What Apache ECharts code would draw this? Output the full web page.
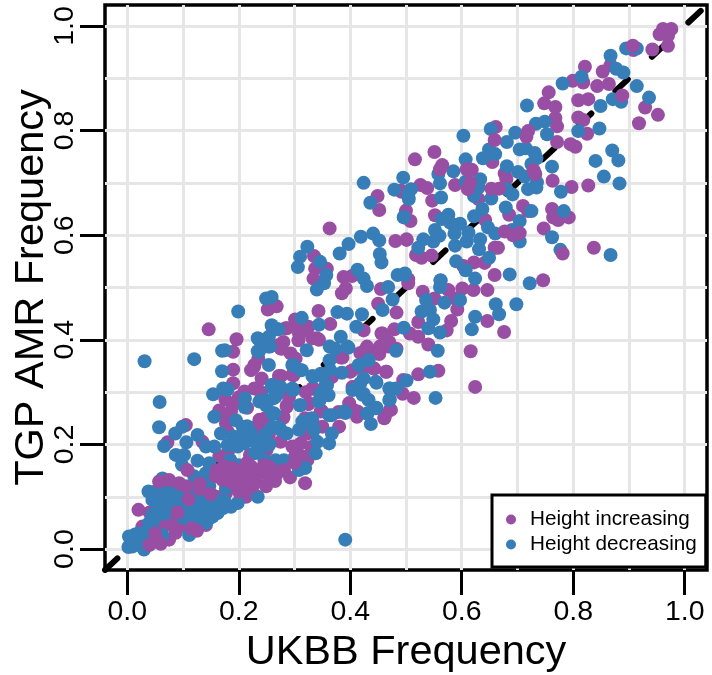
<!DOCTYPE html>
<html><head><meta charset="utf-8">
<style>html,body{margin:0;padding:0;background:#fff}#c{width:712px;height:675px}</style>
<script src="https://cdn.jsdelivr.net/npm/echarts@6/dist/echarts.min.js"></script>
</head><body><div id="c"></div>
<script>
const tickValues=[0,0.2,0.4,0.6,0.8,1.0];
const gridValues=[0,0.1,0.2,0.3,0.4,0.5,0.6,0.7,0.8,0.9,1.0];
const diagonal=[[-0.04,-0.04],[1.04,1.04]];
const increasingBelow=[
[.961,.994],[.976,.994],[.955,.984],[.970,.981],[.970,.962],[.967,.99],[.942,.955],[.908,.954],[.867,.925],[.853,.913],[.821,.922],
[.799,.895],[.818,.892],[.843,.885],[.864,.889],[.756,.873],[.748,.852],[.768,.845],[.809,.858],[.827,.860],[.929,.844],[.952,.830],[.918,.814],
[.768,.824],[.771,.808],[.809,.825],[.818,.820],[.825,.794],[.661,.807],[.771,.778],[.795,.774],[.804,.769],[.655,.740],[.551,.759],[.516,.745],
[.763,.704],[.797,.692],[.827,.695],[.677,.718],[.680,.707],[.526,.696],[.538,.690],[.492,.683],[.588,.696],[.630,.669],[.547,.666],[.500,.647],[.508,.627],
[.552,.638],[.642,.629],[.685,.639],[.710,.656],[.719,.646],[.762,.650],[.764,.634],[.773,.629],[.792,.634],[.747,.613],[.501,.591],[.659,.576],[.665,.576],
[.837,.576],[.518,.562],[.528,.557],[.546,.561],[.603,.541],[.622,.548],[.641,.547],[.659,.524],[.746,.514],[.504,.516],
[.449,.675],[.452,.648],[.363,.613],[.481,.589],[.501,.592],[.335,.560],[.337,.536],[.358,.536],[.334,.517],[.388,.520],[.403,.522],[.392,.498],[.385,.489],[.455,.497],[.491,.685],
[.504,.508],[.450,.469],[.483,.452],[.530,.492],[.576,.495],[.601,.498],[.621,.495],[.646,.495],[.551,.479],[.588,.479],[.592,.458],[.646,.436],[.676,.415],[.581,.436],[.573,.418],
[.522,.434],[.522,.406],[.507,.412],[.540,.391],[.616,.378],[.624,.310],[.558,.341],[.522,.334],[.514,.289],[.495,.323],[.494,.297],[.471,.266],[.462,.253],[.479,.420],[.456,.412],[.465,.399],[.453,.387],[.468,.387],[.483,.383],
[.430,.387],[.418,.375],[.343,.455],[.301,.439],[.364,.430],[.424,.418],[.310,.412],[.325,.425],[.340,.403],[.307,.399],[.286,.422],[.277,.383],[.301,.364],[.386,.366],[.450,.377],[.427,.380],
[.400,.339],[.418,.347],[.442,.345],[.465,.339],[.367,.329],[.358,.313],[.276,.331],[.298,.332],[.334,.307],[.233,.307],[.241,.326],[.227,.348],[.406,.310],[.286,.272],[.325,.277],[.349,.264],[.379,.262],[.406,.266],[.412,.253],[.280,.253],[.319,.250],[.247,.250],
[.146,.420],[.252,.458],[.268,.464],[.253,.459],[.105,.237],[.072,.204],[.135,.205],[.165,.178],[.180,.183],[.190,.377],[.190,.343],[.190,.317],[.196,.401],[.176,.286],[.189,.275],[.171,.256],[.177,.240],[.186,.263],
[.228,.352],[.222,.342],[.235,.364],[.210,.301],[.228,.307],[.260,.425],[.284,.422],[.275,.384],[.293,.374],[.302,.364],[.272,.331],[.296,.333],[.286,.274],[.280,.251],[.243,.240],[.231,.234],[.254,.218],[.296,.196],[.311,.202],[.323,.170],[.320,.221],
[.319,.126],[.292,.137],[.213,.100],[.207,.120],[.159,.100],[.177,.107],[.084,.107],[.129,.100],[.020,.075],[.040,.070],[.075,.059],[.093,.081],[.123,.075],[.093,.043],[.108,.043],[.087,.031],[.075,.018],[.141,.046],[.123,.043],[.027,.043],[.021,.011],[.045,.018],[.027,.005],
[.016,.013],[.036,.012],[.055,.022],[.066,.045],[.101,.060],[.115,.058],[.135,.084],[.056,.066],[.085,.060],[.035,.032],[.058,.040],
[.200,.290],[.215,.270],[.165,.265],[.180,.225],[.240,.300],[.290,.290],[.320,.300],[.345,.285],[.220,.180],[.250,.190],[.275,.205],[.300,.175],[.330,.195],[.150,.140],[.200,.130],[.210,.150],[.170,.100],[.100,.110],
[.308,.412],[.320,.422],[.332,.403],[.344,.400],[.302,.428],[.272,.390],[.458,.412],[.470,.396],[.458,.389],[.452,.373],[.428,.380],[.383,.366],[.404,.342],[.428,.349],[.443,.345],[.464,.339],[.332,.307],[.404,.310],
[.326,.279],[.347,.263],[.398,.279],[.413,.263],[.461,.250],[.473,.266],[.380,.234],[.350,.234],[.243,.231],[.237,.247],[.231,.228],[.254,.234],[.302,.196],[.314,.177],[.323,.221]
];
const decreasing=[
[.895,.957],[.914,.957],[.867,.943],[.815,.903],[.877,.918],[.890,.911],[.781,.890],[.914,.885],[.717,.848],[.871,.860],[.886,.855],[.936,.863],[.849,.847],[.733,.813],[.749,.817],[.753,.793],
[.809,.799],[.847,.804],[.652,.803],[.603,.790],[.696,.796],[.681,.778],[.649,.764],[.638,.747],[.660,.755],[.704,.764],[.715,.766],[.731,.757],[.725,.736],[.734,.747],[.762,.731],[.870,.762],[.881,.743],[.840,.742],[.855,.712],[.883,.699],
[.607,.745],[.558,.717],[.585,.722],[.681,.732],[.701,.721],[.713,.712],[.495,.710],[.509,.688],[.561,.699],[.607,.702],[.633,.707],[.630,.691],[.622,.675],[.680,.688],[.691,.678],[.653,.670],[.719,.688],[.735,.701],[.734,.691],[.778,.683],
[.505,.669],[.563,.672],[.496,.634],[.576,.639],[.564,.631],[.579,.624],[.597,.622],[.585,.620],[.637,.650],[.622,.636],[.679,.653],[.725,.646],[.704,.627],[.783,.646],[.552,.610],[.560,.599],[.549,.588],[.587,.603],[.612,.605],[.609,.588],[.633,.592],
[.647,.615],[.660,.603],[.704,.588],[.690,.610],[.762,.596],[.531,.592],[.522,.576],[.588,.580],[.631,.573],[.649,.557],[.777,.572],[.867,.562],[.590,.550],[.607,.533],[.686,.525],[.624,.517],[.562,.513],[.722,.508],[.498,.524],
[.424,.700],[.479,.687],[.504,.677],[.436,.662],[.496,.635],[.419,.597],[.441,.603],[.452,.590],[.397,.583],[.381,.565],[.323,.578],[.310,.559],[.306,.539],[.346,.549],[.357,.524],[.353,.508],[.340,.496],[.453,.564],[.456,.548],[.413,.534],[.424,.517],[.430,.503],[.485,.524],[.498,.527],[.468,.501],
[.561,.501],[.562,.514],[.476,.477],[.458,.457],[.536,.476],[.569,.471],[.597,.476],[.661,.468],[.698,.468],[.667,.449],[.624,.444],[.618,.420],[.561,.414],[.528,.454],[.543,.457],[.549,.439],[.540,.422],[.557,.379],[.543,.339],[.553,.289],[.501,.322],[.471,.307],[.482,.307],[.471,.286],[.447,.318],[.447,.270],
[.496,.423],[.482,.379],[.397,.385],[.363,.387],[.373,.383],[.363,.361],[.313,.442],[.344,.429],[.377,.453],[.394,.450],[.421,.449],[.411,.425],[.271,.420],[.259,.428],[.236,.401],[.322,.380],[.256,.387],[.236,.377],[.415,.352],[.433,.361],
[.334,.329],[.349,.332],[.364,.342],[.385,.337],[.313,.342],[.298,.352],[.424,.326],[.418,.317],[.358,.313],[.361,.294],[.346,.297],[.259,.310],[.247,.285],[.271,.301],[.298,.304],[.262,.288],[.310,.275],[.424,.297],[.433,.285],[.430,.259],[.391,.260],[.264,.259],[.367,.256],[.331,.250],
[.031,.359],[.120,.363],[.199,.454],[.249,.479],[.259,.482],[.058,.281],[.057,.233],[.099,.234],[.086,.221],[.066,.197],[.126,.218],[.106,.204],[.141,.196],[.156,.196],[.087,.180],[.102,.180],[.098,.161],[.126,.169],[.147,.164],
[.154,.296],[.172,.307],[.170,.379],[.175,.380],[.170,.340],[.180,.305],[.234,.403],[.211,.288],[.211,.271],[.156,.253],[.168,.221],[.195,.246],[.207,.221],[.198,.196],[.180,.199],[.254,.352],[.269,.420],[.254,.406],[.253,.387],[.234,.378],
[.260,.314],[.275,.310],[.266,.291],[.237,.282],[.249,.275],[.311,.342],[.296,.352],[.310,.275],[.296,.307],[.260,.260],[.286,.221],[.260,.234],[.275,.228],[.222,.221],[.231,.202],[.210,.202],[.243,.209],[.228,.183],[.207,.155],[.246,.170],[.266,.170],[.281,.170],[.308,.151],[.319,.155],
[.308,.228],[.323,.244],[.335,.228],[.341,.205],[.338,.183],[.362,.202],[.367,.221],[.234,.100],[.177,.116],[.198,.088],[.186,.081],[.171,.078],[.123,.107],[.147,.120],[.141,.145],[.120,.139],[.063,.135],[.038,.110],[.054,.094],[.072,.088],[.045,.094],[.063,.075],
[.039,.050],[.033,.024],[.003,.024],[.129,.072],[.147,.059],[.111,.027],[.096,.062],[.063,.027],[.141,.050],[.153,.062],[.002,.004],[.030,-.001],[.391,.018],[.050,.110],[.060,.082],[.075,.100],[.068,.068],[.125,.055],[.135,.062],[.115,.085],[.160,.070],[.009,.005],
[.065,.115],[.082,.122],[.070,.080],[.085,.075],[.090,.095],[.105,.070],[.155,.085],[.145,.075],[.120,.065],[.050,.060],[.028,.030],[.012,.015],[.045,.040],[.135,.095],[.150,.105],
[.225,.210],[.240,.195],[.255,.200],[.190,.215],[.215,.235],[.185,.170],[.200,.160],[.165,.140],
[.395,.387],[.383,.406],[.332,.331],[.347,.335],[.356,.314],[.344,.282],[.422,.295],[.404,.304],[.446,.320],[.470,.307],[.470,.285],[.389,.263],[.362,.256],[.431,.259],[.446,.269],[.437,.239],
[.332,.247],[.314,.244],[.207,.234],[.219,.215],[.237,.199],[.249,.221],[.272,.234],[.051,.100],[.063,.081],[.045,.066],[.057,.088],[.069,.100],[.081,.075],[.141,.088],[.135,.062],[.123,.066],[.105,.059],[.153,.075],[.162,.069],
[.078,.090],[.095,.105],[.110,.112],[.102,.090],[.125,.122],[.160,.095],[.175,.090],[.020,.030],[.014,.028]
];
const increasingAbove=[
[.907,.962],[.888,.867],[.719,.799],[.716,.788],[.659,.782],[.609,.726],[.618,.725],[.561,.726],[.565,.734],[.611,.688],[.615,.701],[.653,.689],[.667,.689],[.729,.724],[.732,.717],[.704,.604],[.692,.600],[.677,.607],[.781,.565],
[.280,.396],[.174,.158],[.195,.145],[.171,.132],[.189,.126],[.231,.129],[.249,.120],[.266,.148],[.281,.151],[.254,.139],[.237,.145],[.093,.126],[.108,.151],[.075,.132],[.057,.129],
[.160,.150],[.215,.165],[.150,.105],[.130,.125],[.110,.095],[.090,.070],[.125,.035],[.060,.010],[.040,.008],[.050,.030],
[.225,.150],[.245,.160],[.265,.130],[.200,.110],[.180,.135],[.105,.120],[.115,.040],[.080,.045],[.130,.115],[.300,.165],
[.189,.155],[.207,.151],[.222,.158],[.243,.151],[.254,.158],[.269,.145],[.219,.139],[.225,.120],[.213,.113],[.159,.139],[.165,.151]
];
const chart=echarts.init(document.getElementById('c'),null,{renderer:'canvas'});
const font='"Liberation Sans",Arial,sans-serif';
const fmt=v=>Number(v).toFixed(1);
const axisCommon={type:'value',min:-0.04,max:1.04,axisLine:{show:false,onZero:false},splitLine:{show:false},
  axisTick:{show:true,customValues:tickValues,length:25,lineStyle:{color:'#000',width:3}},
  nameLocation:'middle',nameTextStyle:{color:'#000',fontFamily:font,fontSize:41.5}};
const dot=(name,data,color)=>({name,type:'scatter',data,symbol:'circle',symbolSize:14,itemStyle:{color,opacity:1},clip:true,animation:false});
chart.setOption({
  animation:false,backgroundColor:'#fff',
  grid:{left:105,top:5,width:602,height:565,outerBoundsMode:'none',containLabel:false,show:true,borderColor:'#000',borderWidth:3.5,backgroundColor:'#fff'},
  xAxis:Object.assign({},axisCommon,{name:'UKBB Frequency',nameGap:62,
    axisLabel:{customValues:tickValues,formatter:fmt,color:'#000',fontFamily:font,fontSize:28.5,margin:28}}),
  yAxis:Object.assign({},axisCommon,{name:'TGP AMR Frequency',nameGap:52,nameMoveOverlap:false,
    axisLabel:{customValues:tickValues,formatter:fmt,color:'#000',fontFamily:font,fontSize:28.5,rotate:90,margin:25}}),
  legend:{show:true,z:50,data:['Height increasing','Height decreasing'],orient:'vertical',left:492,top:495,selectedMode:false,
    icon:'circle',itemWidth:10,itemHeight:10,itemGap:4,padding:[14,9,12,14],backgroundColor:'#fff',borderColor:'#000',borderWidth:3,borderRadius:0,
    textStyle:{color:'#000',fontFamily:font,fontSize:20.7,padding:[0,0,0,9]}},
  series:[
    {name:'grid',type:'line',data:[],silent:true,z:1,markLine:{silent:true,z:1,symbol:'none',animation:false,label:{show:false},
      lineStyle:{color:'#e6e6e6',width:3,type:'solid'},
      data:gridValues.map(v=>({xAxis:v})).concat(gridValues.map(v=>({yAxis:v})))}},
    {name:'diagonal',type:'line',data:diagonal,symbol:'none',z:2,silent:true,lineStyle:{color:'#000',width:6,type:[17,33],cap:'round'}},
    Object.assign(dot('Height increasing',increasingBelow,'#984EA3'),{z:3}),
    Object.assign(dot('Height decreasing',decreasing,'#377EB8'),{z:4}),
    Object.assign(dot('Height increasing',increasingAbove,'#984EA3'),{z:5})
  ]
});
</script></body></html>
